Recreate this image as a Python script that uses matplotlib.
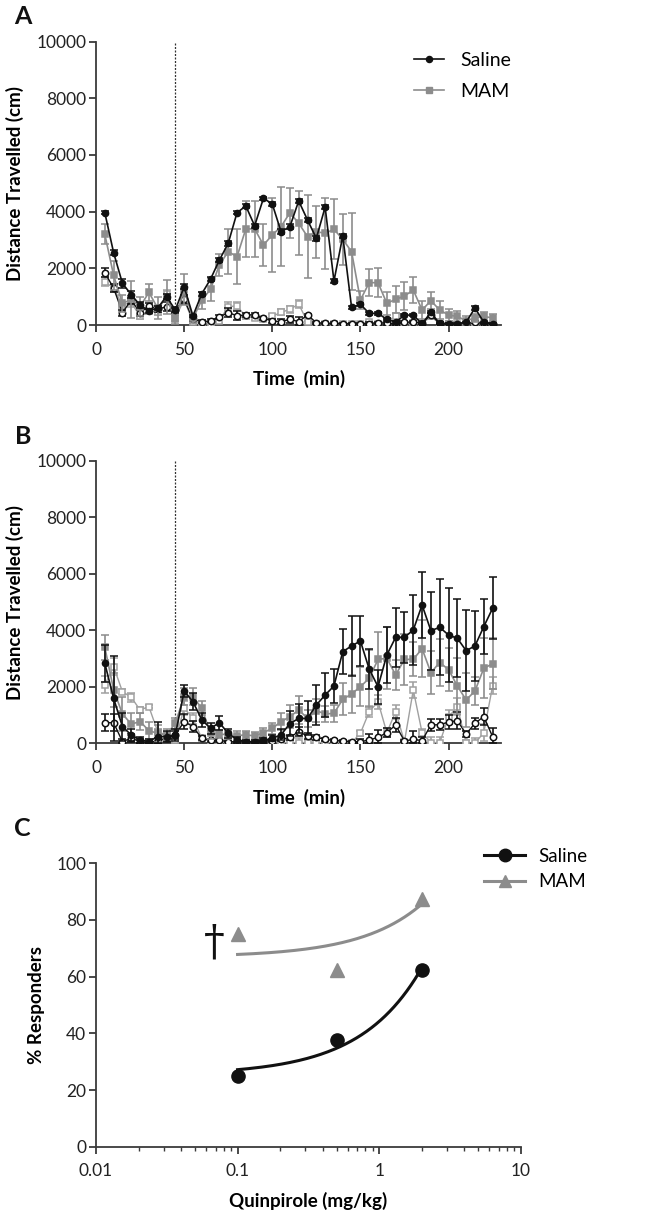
import matplotlib
matplotlib.use('Agg')
import matplotlib.pyplot as plt
import numpy as np
from matplotlib.lines import Line2D

plt.rcParams['font.family'] = ['Lato', 'DejaVu Sans']

# ---------------- data ----------------
time_min = [5, 10, 15, 20, 25, 30, 35, 40, 45, 50, 55, 60, 65, 70, 75, 80, 85, 90, 95, 100,
            105, 110, 115, 120, 125, 130, 135, 140, 145, 150, 155, 160, 165, 170, 175, 180,
            185, 190, 195, 200, 205, 210, 215, 220, 225]

# Panel A
A_saline = [3960, 2550, 1470, 1070, 700, 500, 600, 1000, 530, 1350, 320, 1100, 1620, 2290, 2880,
            3960, 4200, 3500, 4470, 4270, 3290, 3470, 4375, 3705, 3058, 4160, 1550, 3140, 620,
            730, 410, 410, 200, 100, 350, 350, 40, 450, 40, 40, 50, 100, 600, 100, 50]
A_saline_err = [60, 80, 150, 120, 100, 80, 80, 100, 60, 80, 50, 60, 60, 80, 80,
                60, 60, 80, 60, 60, 80, 80, 80, 80, 80, 80, 80, 80, 50,
                50, 40, 40, 40, 30, 40, 40, 20, 40, 20, 20, 20, 20, 60, 20, 20]
A_mam = [3200, 1750, 760, 900, 650, 1150, 600, 1000, 200, 1250, 230, 880, 1260, 2120, 2590,
         2410, 3390, 3390, 2820, 3175, 3470, 3960, 3590, 3116, 3293, 3234, 3375, 3022, 2587,
         882, 1493, 1493, 764, 906, 1023, 1235, 529, 858, 529, 353, 300, 150, 250, 300, 250]
A_mam_err = [360, 500, 300, 650, 350, 300, 400, 600, 150, 560, 150, 300, 400, 390, 800,
             975, 1000, 990, 740, 1290, 1390, 890, 1120, 1470, 917, 1246, 1060, 900, 1350,
             300, 470, 500, 410, 470, 500, 470, 320, 300, 300, 200, 200, 150, 150, 150, 150]
A_saline_open = [1846, 1300, 435, 880, 435, 670, 553, 650, 530, 900, 200, 110, 150, 280, 435,
                 330, 353, 360, 235, 141, 118, 200, 118, 353, 82, 59, 59, 50, 50,
                 50, 50, 80, 60, 50, 100, 100, 80, 350, 60, 50, 50, 50, 100, 50, 50]
A_mam_open = [1530, 1300, 700, 800, 300, 500, 450, 1100, 250, 900, 100, 50, 50, 150, 650,
              670, 300, 250, 200, 300, 450, 550, 740, 100, 50, 50, 50, 50, 50,
              50, 100, 50, 150, 300, 50, 80, 50, 300, 50, 50, 50, 50, 50, 50, 50]
A_open_err = [150, 150, 100, 150, 100, 100, 100, 150, 100, 150, 50, 50, 50, 80, 150,
              150, 80, 80, 60, 80, 100, 120, 150, 50, 30, 30, 30, 30, 30,
              30, 40, 30, 50, 80, 30, 30, 30, 80, 30, 30, 30, 30, 40, 30, 30]

# Panel B
B_saline = [2830, 1590, 590, 295, 120, 60, 240, 240, 295, 1850, 1475, 830, 530, 730, 350,
            120, 60, 60, 100, 180, 300, 700, 880, 880, 1356, 1710, 2028, 3245, 3445,
            3622, 2627, 2005, 3127, 3751, 3751, 4010, 4895, 3987, 4105, 3834, 3716, 3279, 3445,
            4129, 4778]
B_saline_err = [650, 1500, 500, 200, 100, 100, 500, 200, 200, 200, 300, 250, 200, 250, 150,
                100, 50, 50, 100, 100, 200, 450, 500, 600, 710, 770, 600, 800, 1060,
                900, 700, 600, 980, 1050, 900, 1240, 1180, 1380, 1700, 1650, 1380, 1440, 1250,
                965, 1100]
B_mam = [3400, 1890, 1040, 680, 770, 450, 350, 300, 710, 1650, 1650, 1240, 350, 330, 300,
         270, 300, 260, 377, 530, 766, 943, 1180, 885, 1156, 1038, 1060, 1557, 1746,
         2005, 2300, 2970, 3009, 2419, 2970, 2970, 3350, 2501, 2860, 2610, 2030, 1533, 1852,
         2654, 2817]
B_mam_err = [440, 600, 600, 400, 300, 300, 300, 200, 200, 300, 300, 240, 200, 150, 150,
             150, 150, 150, 150, 200, 300, 400, 500, 300, 400, 300, 300, 570, 670,
             700, 1000, 980, 1100, 530, 900, 600, 1000, 750, 830, 770, 1000, 940, 500,
             1060, 900]
B_saline_open = [730, 730, 60, 180, 60, 24, 100, 180, 295, 770, 590, 180, 100, 100, 60,
                 50, 50, 50, 80, 94, 140, 210, 412, 258, 210, 140, 100, 80, 58,
                 58, 117, 210, 377, 648, 80, 140, 94, 648, 660, 750, 802, 330, 708, 944, 236]
B_mam_open = [2065, 2714, 1829, 1628, 1180, 1298, 413, 295, 118, 1239, 885, 177, 59, 24, 24,
              24, 24, 24, 117, 24, 24, 24, 24, 24, 24, 24, 24, 24, 24,
              353, 1120, 1474, 377, 1120, 58, 1887, 377, 24, 24, 930, 1298, 0, 0, 377, 2030]
B_open_err = [300, 300, 100, 150, 100, 50, 100, 100, 150, 250, 200, 80, 50, 50, 30,
              30, 30, 30, 50, 50, 60, 80, 150, 100, 80, 60, 50, 40, 30,
              80, 200, 250, 150, 250, 40, 300, 120, 200, 200, 250, 300, 100, 200, 300, 300]

# Panel C
dose = [0.1, 0.5, 2.0]
C_saline = [25.0, 37.5, 62.5]
C_mam = [75.0, 62.5, 87.5]

dose_ticks = [0.01, 0.1, 1, 10]
dose_ticklabels = ['0.01', '0.1', '1', '10']

# ---------------- styling ----------------
W, H = 656, 1217
BLACK = '#111111'
GRAY = '#8c8c8c'
LGRAY = '#a0a0a0'
AXC = '#3a3a3a'
TICK_FS = 12.5
LAB_FS = 13.5

fig = plt.figure(figsize=(W / 100, H / 100), dpi=100)


def px_axes(left, top, right, bottom):
    return fig.add_axes([left / W, 1 - bottom / H, (right - left) / W, (bottom - top) / H])


def style_axes(ax):
    for s in ['top', 'right']:
        ax.spines[s].set_visible(False)
    for s in ['left', 'bottom']:
        ax.spines[s].set_color(AXC)
        ax.spines[s].set_linewidth(1.3)
    ax.tick_params(axis='both', which='major', direction='out', length=5, width=1.3,
                   color=AXC, labelsize=TICK_FS, labelcolor='#222222', pad=2)
    ax.tick_params(axis='x', which='major', pad=7)
    ax.tick_params(axis='both', which='minor', direction='out', length=3, width=1.0, color=AXC)


def series(ax, y, err, color, marker, mfc, ms, z, lw=1.2):
    y = np.asarray(y, float)
    e = np.asarray(err, float)
    lower = np.minimum(e, y)
    ax.errorbar(time_min, y, yerr=[lower, e], color=color, marker=marker, mfc=mfc,
                mec=color, mew=1.1, ms=ms, lw=lw, elinewidth=1.2, capsize=3.2,
                capthick=1.2, ecolor=color, zorder=z)


def time_panel(ax, sal, sal_e, mam, mam_e, sal_o, mam_o, open_e):
    style_axes(ax)
    ax.set_xlim(0, 230)
    ax.set_ylim(0, 10000)
    ax.set_xticks([0, 50, 100, 150, 200])
    ax.set_yticks([0, 2000, 4000, 6000, 8000, 10000])
    ax.axvline(45, color='#333333', lw=0.9, ls=(0, (1.6, 1.2)), zorder=1)
    series(ax, mam_o, open_e, LGRAY, 's', 'white', 4.6, 3, lw=1.0)
    series(ax, sal_o, open_e, BLACK, 'o', 'white', 4.6, 4, lw=1.0)
    series(ax, mam, mam_e, GRAY, 's', GRAY, 5.0, 5)
    series(ax, sal, sal_e, BLACK, 'o', BLACK, 4.4, 6)
    ax.set_xlabel('Time  (min)', fontsize=LAB_FS, fontweight='bold', labelpad=9)
    ax.set_ylabel('Distance Travelled (cm)', fontsize=LAB_FS, fontweight='bold', labelpad=9)


axA = px_axes(96, 41.5, 501.4, 325)
axB = px_axes(96, 460.8, 501.4, 743.3)
axC = px_axes(96, 863.3, 520.7, 1146.7)

time_panel(axA, A_saline, A_saline_err, A_mam, A_mam_err, A_saline_open, A_mam_open, A_open_err)
time_panel(axB, B_saline, B_saline_err, B_mam, B_mam_err, B_saline_open, B_mam_open, B_open_err)

# legend for A
hA = [Line2D([], [], color=BLACK, marker='o', ms=4.4, lw=1.2),
      Line2D([], [], color=GRAY, marker='s', ms=5.0, lw=1.2)]
fig.legend(hA, ['Saline', 'MAM'], loc='upper left',
           bbox_to_anchor=(414 / W, 1 - 52 / H), frameon=False, fontsize=14,
           handlelength=1.55, handletextpad=0.85, labelspacing=0.72,
           borderpad=0, borderaxespad=0)

# Panel C
style_axes(axC)
axC.set_xscale('log')
axC.set_xlim(0.01, 10)
axC.set_ylim(0, 100)
axC.set_xticks(dose_ticks)
axC.set_xticklabels(dose_ticklabels)
axC.set_yticks([0, 20, 40, 60, 80, 100])
axC.tick_params(axis='x', which='minor', labelbottom=False)

xs = np.linspace(min(dose), max(dose), 200)
for yvals, col, mk in [(C_saline, BLACK, 'o'), (C_mam, GRAY, '^')]:
    b, a = np.polyfit(dose, yvals, 1)
    axC.plot(xs, a + b * xs, color=col, lw=2.2, zorder=3)
    axC.plot(dose, yvals, ls='none', marker=mk, ms=9.5, color=col, mec=col, zorder=4,
             clip_on=False)

axC.text(0.068, 72, '\u2020', fontsize=30, family=['DejaVu Serif'], ha='center',
         va='center', color=BLACK)
axC.set_xlabel('Quinpirole (mg/kg)', fontsize=LAB_FS, fontweight='bold', labelpad=9)
axC.set_ylabel('% Responders', fontsize=LAB_FS, fontweight='bold', labelpad=8)

hC = [Line2D([], [], color=BLACK, marker='o', ms=9, lw=2.2),
      Line2D([], [], color=GRAY, marker='^', ms=9, lw=2.2)]
fig.legend(hC, ['Saline', 'MAM'], loc='upper left',
           bbox_to_anchor=(484 / W, 1 - 848 / H), frameon=False, fontsize=13.5,
           handlelength=2.2, handletextpad=0.7, labelspacing=0.45,
           borderpad=0, borderaxespad=0)

# panel letters
for letter, (x, y) in {'A': (23, 16), 'B': (23, 436), 'C': (22, 828)}.items():
    fig.text(x / W, 1 - y / H, letter, fontsize=18, fontweight='bold', ha='center',
             va='center', color=BLACK)

fig.savefig('out.png', dpi=100)
